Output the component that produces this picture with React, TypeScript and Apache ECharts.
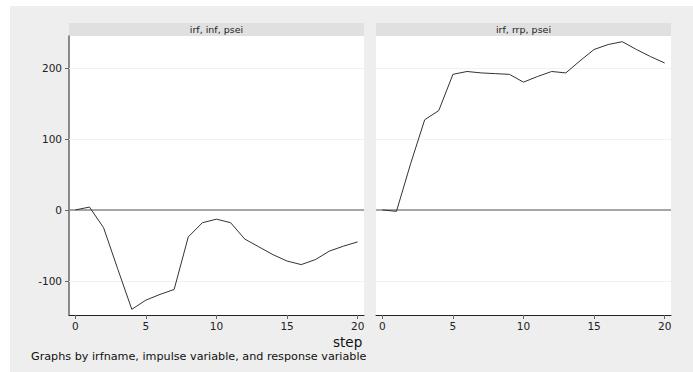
import React, { useEffect, useRef } from "react";
import * as echarts from "echarts";

const steps = [0, 1, 2, 3, 4, 5, 6, 7, 8, 9, 10, 11, 12, 13, 14, 15, 16, 17, 18, 19, 20];
const infResponse = [0, 4, -25, -83, -140, -127, -119, -112, -38, -18, -13, -18, -41, -52, -63, -72, -77, -70, -58, -51, -45];
const rrpResponse = [0, -2, 65, 127, 140, 191, 195, 193, 192, 191, 180, 188, 195, 193, 210, 226, 233, 237, 226, 216, 207];
const panelTitles = ["irf, inf, psei", "irf, rrp, psei"];
const xTicks = [0, 5, 10, 15, 20];
const yTicks = [-100, 0, 100, 200];
const gridLines = [-100, 100, 200];

const FONT = "'DejaVu Sans', 'Liberation Sans', Arial, sans-serif";

export default function App() {
  const ref = useRef<HTMLDivElement>(null);
  useEffect(() => {
    if (!ref.current) return;
    const chart = echarts.init(ref.current, null, { renderer: "svg" });
    const panels = [
      { left: 69, data: infResponse },
      { left: 376, data: rrpResponse },
    ];
    const W = 295;
    const top = 36;
    const H = 279;
    const xAxis = panels.map((p, i) => ({
      type: "value",
      gridIndex: i,
      min: -0.45,
      max: 20.45,
      axisLine: { show: true, onZero: false, lineStyle: { color: "#222", width: 1 } },
      axisTick: { show: true, length: 4, customValues: xTicks, lineStyle: { color: "#666" } },
      axisLabel: { customValues: xTicks, fontFamily: FONT, fontSize: 10.5, color: "#222", margin: 5 },
      splitLine: { show: false },
    }));
    const yAxis = panels.map((p, i) => ({
      type: "value",
      gridIndex: i,
      min: -148,
      max: 245,
      axisLine: { show: i === 0, onZero: false, lineStyle: { color: "#666", width: 1.5 } },
      axisTick: { show: i === 0, length: 4, customValues: yTicks, lineStyle: { color: "#666" } },
      axisLabel: { show: i === 0, customValues: yTicks, fontFamily: FONT, fontSize: 10.5, color: "#222", margin: 7 },
      splitLine: { show: false },
    }));
    const series = panels.map((p, i) => ({
      type: "line",
      xAxisIndex: i,
      yAxisIndex: i,
      data: steps.map((s, k) => [s, p.data[k]]),
      symbol: "none",
      lineStyle: { color: "#333", width: 1 },
      z: 5,
      markLine: {
        silent: true,
        symbol: "none",
        label: { show: false },
        data: [
          ...gridLines.map((v) => ({ yAxis: v, lineStyle: { color: "#f1f1f1", width: 1, type: "solid" } })),
          { yAxis: 0, lineStyle: { color: "#888", width: 1.5, type: "solid" } },
        ],
      },
    }));
    const graphic: any[] = [
      { type: "rect", shape: { x: 10, y: 6, width: 683, height: 366 }, style: { fill: "#eeeeee" }, z: -10 },
    ];
    panels.forEach((p, i) => {
      graphic.push({ type: "rect", shape: { x: p.left, y: 23, width: W, height: 13 }, style: { fill: "#e0e0e0" }, z: -5 });
      graphic.push({
        type: "text",
        x: p.left + W / 2,
        y: 29.5,
        style: { text: panelTitles[i], fill: "#222", font: `9.5px ${FONT}`, align: "center", verticalAlign: "middle" },
      });
    });
    graphic.push({
      type: "text",
      x: 333,
      y: 341.5,
      style: { text: "step", fill: "#111", font: `13.5px ${FONT}`, align: "left", verticalAlign: "middle" },
    });
    graphic.push({
      type: "text",
      x: 31,
      y: 356.5,
      style: {
        text: "Graphs by irfname, impulse variable, and response variable",
        fill: "#111",
        font: `11.2px ${FONT}`,
        align: "left",
        verticalAlign: "middle",
      },
    });
    chart.setOption({
      animation: false,
      backgroundColor: "#ffffff",
      grid: panels.map((p) => ({
        left: p.left,
        top,
        width: W,
        height: H,
        show: true,
        backgroundColor: "#ffffff",
        borderWidth: 0,
        containLabel: false,
      })),
      xAxis,
      yAxis,
      series,
      graphic,
    });
    return () => chart.dispose();
  }, []);
  return (
    <div
      ref={ref}
      style={{ position: "absolute", left: 0, top: 0, width: 693, height: 372 }}
    />
  );
}
